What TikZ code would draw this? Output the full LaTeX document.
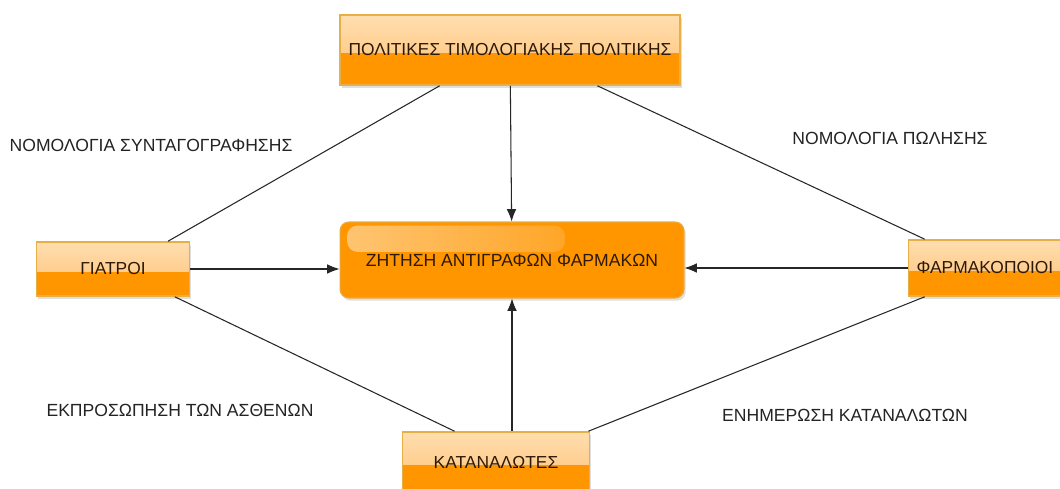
\documentclass[tikz,border=0pt]{standalone}
\usepackage{fontspec}
\setmainfont{Liberation Sans}
\usetikzlibrary{arrows.meta,positioning,calc,shadows,fadings}
\definecolor{deeporange}{RGB}{255,150,0}
\definecolor{paleorange}{RGB}{255,222,175}
\definecolor{midorange}{RGB}{255,192,115}
\definecolor{rimgold}{RGB}{232,175,70}
\definecolor{boxtext}{RGB}{45,25,5}
\definecolor{labeltext}{RGB}{35,35,35}

\tikzset{
  twotone/.style={draw=rimgold,line width=0.9pt,top color=paleorange,bottom color=midorange,
    text=boxtext,font=\fontsize{9.9}{12}\selectfont,inner sep=0pt,
    drop shadow={opacity=0.25,shadow xshift=1pt,shadow yshift=-1.5pt},
    path picture={\fill[deeporange] ($(path picture bounding box.west)+(0,-1.5pt)$) rectangle (path picture bounding box.south east);}},
  glossy/.style={draw=rimgold!80!deeporange,line width=0.6pt,fill=deeporange,rounded corners=5pt,
    text=boxtext,font=\fontsize{10}{12}\selectfont,inner sep=0pt,
    drop shadow={opacity=0.25,shadow xshift=1pt,shadow yshift=-1.5pt},
    path picture={\fill[white,opacity=0.45,rounded corners=6pt,path fading=east]
      ($(path picture bounding box.north west)+(4pt,-2pt)$) rectangle ($(path picture bounding box.north west)+(128pt,-17pt)$);}},
  linklabel/.style={text=labeltext,font=\fontsize{10}{12}\selectfont},
  link/.style={draw=black!85,line width=0.6pt},
  push/.style={link,-{Latex[length=7pt,width=5.5pt]}}
}

\begin{document}
\begin{tikzpicture}[x=0.02cm,y=-0.02cm]
    \clip (0,0) rectangle (1060,489);
    \fill[white] (0,0) rectangle (1060,489);
    % boxes
    \node[twotone,minimum width=6.8cm,minimum height=1.4cm] (policy) at (510,50) {ΠΟΛΙΤΙΚΕΣ ΤΙΜΟΛΟΓΙΑΚΗΣ ΠΟΛΙΤΙΚΗΣ};
    \node[glossy,minimum width=6.88cm,minimum height=1.52cm] (demand) at (512,260) {ΖΗΤΗΣΗ ΑΝΤΙΓΡΑΦΩΝ ΦΑΡΜΑΚΩΝ};
    \node[twotone,minimum width=3.06cm,minimum height=1.08cm] (doctors) at (113,269) {ΓΙΑΤΡΟΙ};
    \node[twotone,minimum width=3.06cm,minimum height=1.12cm] (pharma) at (985,268) {ΦΑΡΜΑΚΟΠΟΙΟΙ};
    \node[twotone,minimum width=3.74cm,minimum height=1.2cm] (consumers) at (496,462) {ΚΑΤΑΝΑΛΩΤΕΣ};
    % arrows into the centre
    \draw[push] (policy) -- (demand);
    \draw[push] (doctors) -- (demand.west |- doctors);
    \draw[push] (pharma) -- (demand.east |- pharma);
    \draw[push] (consumers.north -| demand) -- (demand);
    % outer links
    \draw[link] ($(policy.south west)!0.294!(policy.south east)$) -- ($(doctors.north west)!0.856!(doctors.north east)$);
    \draw[link] ($(policy.south west)!0.756!(policy.south east)$) -- ($(pharma.north west)!0.11!(pharma.north east)$);
    \draw[link] ($(doctors.south west)!0.9!(doctors.south east)$) -- ($(consumers.north west)!0.28!(consumers.north east)$);
    \draw[link] ($(pharma.south west)!0.11!(pharma.south east)$) -- ($(consumers.north west)!0.99!(consumers.north east)$);
    % labels
    \node[linklabel] (lawrx) at (151,145) {ΝΟΜΟΛΟΓΙΑ ΣΥΝΤΑΓΟΓΡΑΦΗΣΗΣ};
    \node[linklabel] (lawsale) at (890,138) {ΝΟΜΟΛΟΓΙΑ ΠΩΛΗΣΗΣ};
    \node[linklabel] (patients) at (180,410) {ΕΚΠΡΟΣΩΠΗΣΗ ΤΩΝ ΑΣΘΕΝΩΝ};
    \node[linklabel] (inform) at (845,415) {ΕΝΗΜΕΡΩΣΗ ΚΑΤΑΝΑΛΩΤΩΝ};
\end{tikzpicture}
\end{document}
